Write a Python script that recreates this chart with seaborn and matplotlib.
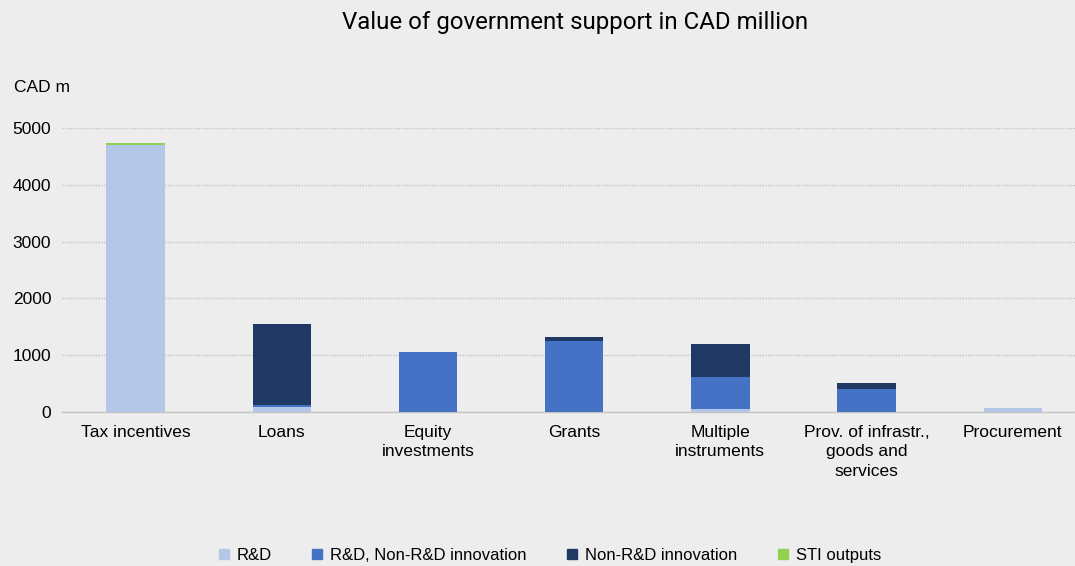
import matplotlib
matplotlib.use("Agg")
import matplotlib.pyplot as plt
import seaborn as sns
import numpy as np
import pandas as pd
from matplotlib.lines import Line2D

categories = ["Tax incentives", "Loans", "Equity\ninvestments", "Grants",
              "Multiple\ninstruments", "Prov. of infrastr.,\ngoods and\nservices",
              "Procurement"]
rd = [4705, 90, 0, 0, 50, 0, 70]
rd_nonrd = [0, 40, 1055, 1255, 570, 405, 0]
nonrd = [0, 1420, 0, 70, 570, 105, 0]
sti = [30, 0, 0, 0, 0, 0, 0]

series_names = ["R&D", "R&D, Non-R&D innovation", "Non-R&D innovation", "STI outputs"]
series_values = [rd, rd_nonrd, nonrd, sti]
series_colors = ["#b4c7e7", "#4472c4", "#203864", "#92d050"]
yticks = [0, 1000, 2000, 3000, 4000, 5000]

sns.set_theme(style="white")
plt.rcParams["font.family"] = ["Liberation Sans", "DejaVu Sans"]
plt.rcParams["text.color"] = "black"
plt.rcParams["xtick.color"] = "black"
plt.rcParams["ytick.color"] = "black"

bg = "#ededed"
fig = plt.figure(figsize=(10.75, 5.66), dpi=100, facecolor=bg)
ax = fig.add_axes([0.0581, 0.272, 0.952, 0.502], facecolor=bg)

df = pd.DataFrame({"category": categories})
bottom = np.zeros(len(categories))
for name, vals, col in zip(series_names, series_values, series_colors):
    df[name] = vals
    sns.barplot(data=df, x="category", y=name, bottom=bottom, color=col,
                width=0.4, ax=ax, saturation=1, linewidth=0, zorder=3)
    bottom = bottom + np.array(vals)

ax.set_xlim(-0.5, 6.5)
ax.set_ylim(0, 5000)
ax.set_yticks(yticks)
ax.set_yticklabels([str(t) for t in yticks], fontsize=12.5, color="black")
ax.set_xticklabels(categories, fontsize=12.5, linespacing=1.35, color="black",
                   va="top")
ax.tick_params(axis="x", length=0, pad=9.5)
ax.tick_params(axis="y", length=0, pad=8)
ax.set_xlabel("")
ax.set_ylabel("")
ax.yaxis.grid(True, color="#c4c4c4", linestyle=(0, (1, 1)), linewidth=1, zorder=0)
for s in ["top", "right", "left"]:
    ax.spines[s].set_visible(False)
ax.spines["bottom"].set_color("#c4c4c4")
ax.spines["bottom"].set_linewidth(1)

fig.text(0.535, 0.96, "Value of government support in CAD million", ha="center",
         va="center", fontsize=17.3, color="black",
         family=["Roboto", "Liberation Sans", "DejaVu Sans"])
fig.text(0.013, 0.846, "CAD m", ha="left", va="center", fontsize=12.5, color="black")

handles = [Line2D([0], [0], marker="s", linestyle="", markersize=7,
                  markerfacecolor=c, markeredgecolor=c) for c in series_colors]
fig.legend(handles, series_names, loc="center", bbox_to_anchor=(0.51, 0.018),
           ncol=4, frameon=False, fontsize=12, handletextpad=0.3,
           columnspacing=2.2, handlelength=1.0)

fig.savefig("out.png", dpi=100, facecolor=bg)
